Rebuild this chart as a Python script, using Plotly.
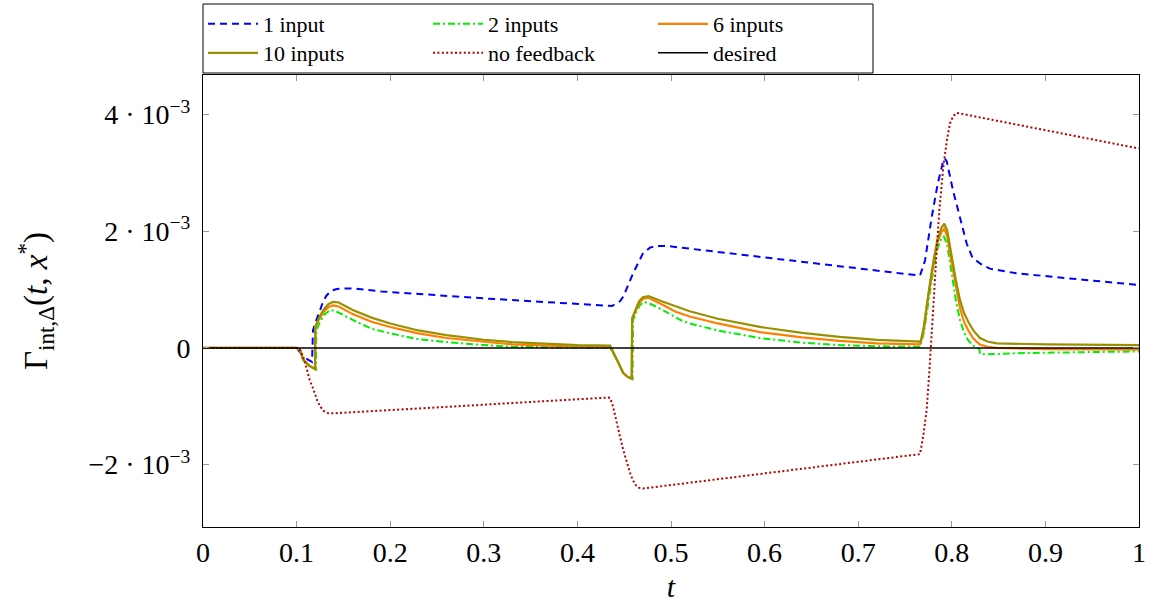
import numpy as np
import plotly.graph_objects as go

# Values are given in units of 1e-3 and scaled when plotted.
SCALE = 1e-3

t_one = [0.0, 0.100, 0.106, 0.112, 0.1165, 0.1175, 0.1205, 0.124, 0.128, 0.132, 0.137, 0.143,
         0.150, 0.160, 0.190, 0.300, 0.437, 0.4455, 0.449, 0.4595, 0.470, 0.4775, 0.4845,
         0.495, 0.766, 0.7714, 0.7785, 0.785, 0.7909, 0.7925, 0.7946, 0.8013, 0.8088,
         0.8159, 0.822, 0.830, 0.8405, 0.869, 0.940, 1.0]
g_one = [0.0, 0.0, -0.12, -0.20, -0.24, 0.30, 0.45, 0.62, 0.78, 0.90, 0.98, 1.01,
         1.02, 1.02, 0.97, 0.85, 0.72, 0.80, 0.88, 1.28, 1.62, 1.72, 1.75,
         1.75, 1.24, 1.50, 2.24, 2.82, 3.21, 3.25, 3.20, 2.70, 2.24,
         1.79, 1.55, 1.45, 1.36, 1.28, 1.17, 1.08]

t_two = [0.0, 0.100, 0.1036, 0.107, 0.114, 0.1207, 0.1210, 0.125, 0.130, 0.136, 0.142, 0.160,
         0.180, 0.200, 0.230, 0.260, 0.300, 0.330, 0.380, 0.435, 0.442, 0.449, 0.454,
         0.4590, 0.4595, 0.463, 0.467, 0.4715, 0.480, 0.490, 0.510, 0.520, 0.550, 0.595,
         0.640, 0.680, 0.720, 0.766, 0.770, 0.7735, 0.777, 0.781, 0.785, 0.789, 0.7915,
         0.795, 0.7999, 0.8045, 0.8088, 0.813, 0.8176, 0.823, 0.8295, 0.8300, 0.838,
         0.870, 0.950, 1.0]
g_two = [0.0, 0.0, -0.03, -0.20, -0.31, -0.37, 0.30, 0.45, 0.58, 0.65, 0.63, 0.48,
         0.33, 0.25, 0.15, 0.10, 0.05, 0.02, 0.01, 0.00, -0.20, -0.43, -0.50,
         -0.53, 0.48, 0.62, 0.74, 0.79, 0.74, 0.66, 0.48, 0.42, 0.30, 0.17,
         0.09, 0.05, 0.03, 0.02, 0.25, 0.65, 1.00, 1.40, 1.72, 1.88, 1.91,
         1.78, 1.25, 0.80, 0.48, 0.27, 0.13, 0.04, -0.02, -0.10, -0.11,
         -0.09, -0.07, -0.06]

t_six = [0.0, 0.100, 0.1036, 0.107, 0.114, 0.1197, 0.1200, 0.124, 0.129, 0.134, 0.139, 0.145,
         0.160, 0.180, 0.200, 0.230, 0.260, 0.300, 0.330, 0.370, 0.400, 0.435, 0.442,
         0.449, 0.454, 0.458, 0.4585, 0.462, 0.466, 0.470, 0.476, 0.490, 0.505, 0.520,
         0.550, 0.595, 0.640, 0.680, 0.720, 0.766, 0.770, 0.7735, 0.777, 0.781, 0.785,
         0.789, 0.792, 0.795, 0.7999, 0.8045, 0.8088, 0.813, 0.8176, 0.823, 0.830,
         0.838, 0.848, 0.900, 1.0]
g_six = [0.0, 0.0, -0.03, -0.20, -0.31, -0.36, 0.35, 0.49, 0.62, 0.70, 0.73, 0.71,
         0.58, 0.45, 0.36, 0.25, 0.17, 0.10, 0.06, 0.04, 0.03, 0.02, -0.20,
         -0.43, -0.50, -0.53, 0.50, 0.63, 0.77, 0.84, 0.86, 0.75, 0.62, 0.54,
         0.42, 0.27, 0.18, 0.12, 0.08, 0.06, 0.30, 0.75, 1.10, 1.50, 1.82,
         1.99, 2.04, 1.92, 1.45, 1.02, 0.68, 0.45, 0.30, 0.16, 0.06,
         0.02, 0.00, -0.02, -0.03]

t_ten = [0.0, 0.100, 0.1036, 0.107, 0.114, 0.1197, 0.1200, 0.124, 0.129, 0.134, 0.139, 0.145,
         0.160, 0.180, 0.200, 0.230, 0.260, 0.300, 0.330, 0.370, 0.400, 0.435, 0.442,
         0.449, 0.454, 0.458, 0.4585, 0.462, 0.4658, 0.470, 0.476, 0.490, 0.505, 0.520,
         0.550, 0.595, 0.640, 0.680, 0.720, 0.7668, 0.770, 0.7735, 0.777, 0.781, 0.785,
         0.789, 0.792, 0.795, 0.7999, 0.8045, 0.8088, 0.813, 0.8176, 0.823, 0.830,
         0.838, 0.848, 0.900, 1.0]
g_ten = [0.0, 0.0, -0.03, -0.20, -0.31, -0.36, 0.37, 0.52, 0.66, 0.75, 0.79, 0.78,
         0.65, 0.52, 0.42, 0.30, 0.22, 0.14, 0.10, 0.07, 0.05, 0.04, -0.20,
         -0.43, -0.50, -0.53, 0.51, 0.65, 0.80, 0.87, 0.89, 0.80, 0.71, 0.63,
         0.50, 0.36, 0.26, 0.19, 0.14, 0.11, 0.35, 0.80, 1.15, 1.55, 1.88,
         2.06, 2.13, 2.02, 1.56, 1.15, 0.82, 0.60, 0.45, 0.30, 0.17,
         0.11, 0.08, 0.06, 0.05]

t_nofb = [0.0, 0.100, 0.1036, 0.107, 0.111, 0.114, 0.118, 0.1215, 0.125, 0.129, 0.134, 0.141,
          0.433, 0.435, 0.438, 0.442, 0.4455, 0.449, 0.453, 0.457, 0.4615, 0.466, 0.470,
          0.766, 0.7696, 0.7732, 0.776, 0.7785, 0.781, 0.7839, 0.7869, 0.7909, 0.7946,
          0.7981, 0.8016, 0.8056, 1.0]
g_nofb = [0.0, 0.0, -0.03, -0.15, -0.37, -0.55, -0.71, -0.88, -1.00, -1.08, -1.12, -1.12,
          -0.85, -0.86, -1.00, -1.25, -1.52, -1.75, -1.97, -2.18, -2.34, -2.40, -2.41,
          -1.82, -1.50, -1.05, -0.40, 0.20, 0.90, 1.70, 2.40, 3.10, 3.55,
          3.85, 3.98, 4.03, 3.42]

t_desired = [0.0, 1.0]
g_desired = [0.0, 0.0]

series = [
    ("1 input", t_one, g_one, "#0000ff", "7px,5px", 2.0, "legend"),
    ("2 inputs", t_two, g_two, "#00ee00", "7px,3px,2px,3px", 2.0, "legend"),
    ("6 inputs", t_six, g_six, "#ff8000", "solid", 2.2, "legend"),
    ("10 inputs", t_ten, g_ten, "#999000", "solid", 2.2, "legend2"),
    ("no feedback", t_nofb, g_nofb, "#b30000", "2px,2.4px", 2.0, "legend2"),
    ("desired", t_desired, g_desired, "#000000", "solid", 1.6, "legend2"),
]

fig = go.Figure()
for name, t, g, color, dash, width, leg in series:
    fig.add_trace(go.Scatter(
        x=t, y=np.array(g) * SCALE, mode="lines", name=name,
        line=dict(color=color, dash=dash, width=width),
        legend=leg,
    ))

FONT = "Liberation Serif"
W, H = 1157, 603

x_ticks = [round(0.1 * i, 1) for i in range(11)]
x_text = ["0"] + [f"{v:g}" for v in x_ticks[1:-1]] + ["1"]
y_ticks = [-2e-3, 0.0, 2e-3, 4e-3]
y_text = ["−2 · 10<sup>−3</sup>", "0", "2 · 10<sup>−3</sup>", "4 · 10<sup>−3</sup>"]

axis_common = dict(
    showgrid=False, zeroline=False, showline=True, linecolor="black", linewidth=1,
    mirror="allticks", ticks="inside", ticklen=6, tickcolor="#9a9a9a", tickwidth=1,
    tickfont=dict(family=FONT, size=28, color="black"),
)


def legend_row(y_px):
    return dict(
        orientation="h", xref="container", yref="container",
        x=203 / W, xanchor="left", y=1 - y_px / H, yanchor="middle",
        bgcolor="rgba(0,0,0,0)", borderwidth=0, entrywidth=160, itemwidth=50,
        font=dict(family=FONT, size=22, color="black"), traceorder="normal",
        itemclick=False,
    )


fig.update_layout(
    width=W, height=H,
    font=dict(family=FONT, size=22, color="black"),
    margin=dict(l=203, r=18, t=75, b=76, autoexpand=False),
    paper_bgcolor="white", plot_bgcolor="white",
    showlegend=True,
    legend=legend_row(24),
    legend2=legend_row(53),
    xaxis=dict(axis_common, range=[0, 1], tickvals=x_ticks, ticktext=x_text,
               title=dict(text="<i>t</i>", font=dict(family=FONT, size=30, color="black"),
                          standoff=12)),
    yaxis=dict(axis_common, range=[-3.07e-3, 4.68e-3], tickvals=y_ticks, ticktext=y_text,
               ticklabelstandoff=6,
               title=dict(text="Γ<sub>int,Δ</sub>(<i>t</i>, <i>x</i><sup>*</sup>)",
                          font=dict(family=FONT, size=33, color="black"), standoff=30)),
    shapes=[dict(type="rect", xref="paper", yref="paper",
                 x0=0, x1=(873 - 203) / 936, y0=(527 - 73) / 452, y1=(527 - 4) / 452,
                 line=dict(color="black", width=1), fillcolor="rgba(0,0,0,0)")],
)

fig.write_html("out.html")
